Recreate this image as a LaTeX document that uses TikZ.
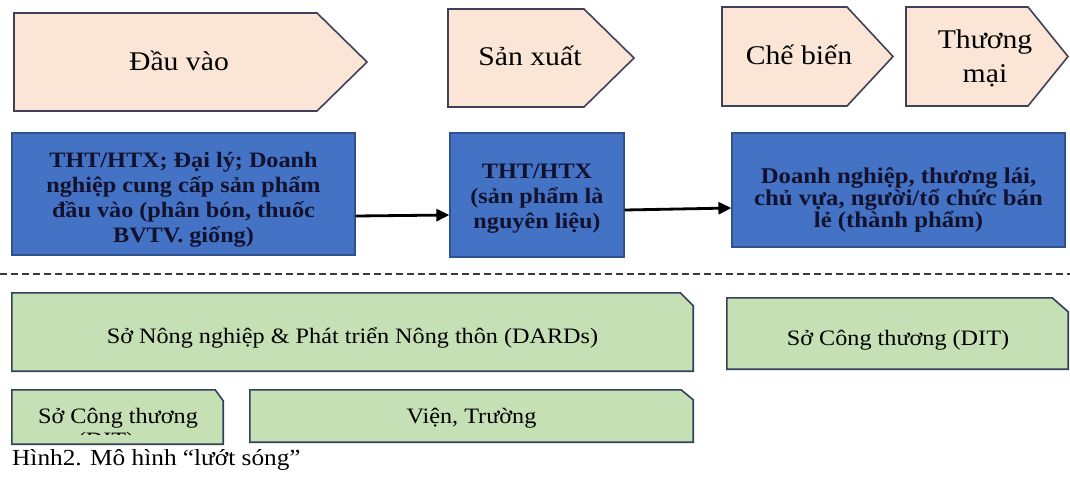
\documentclass[tikz,border=0pt]{standalone}
\usepackage{fontspec}
\setmainfont{Liberation Serif}[FakeStretch=1.1]
\usetikzlibrary{arrows.meta,calc}

\definecolor{peach}{HTML}{FBE5D6}
\definecolor{chevline}{HTML}{404058}
\definecolor{bluefill}{HTML}{4472C4}
\definecolor{blueline}{HTML}{2F528F}
\definecolor{bluetext}{HTML}{12122E}
\definecolor{greenfill}{HTML}{C5E0B4}
\definecolor{greenline}{HTML}{34405A}
\definecolor{dashgray}{HTML}{3A3A3A}

\begin{document}
\begin{tikzpicture}[x=1pt,y=-1pt,
  chev/.style={fill=peach,draw=chevline,line width=1.6pt,line join=miter},
  chevtext/.style={font=\fontsize{27}{34}\selectfont,align=center,inner sep=0pt,anchor=base},
  actor/.style={fill=bluefill,draw=blueline,line width=1.2pt,inner sep=0pt},
  actortext/.style={font=\bfseries\fontsize{22}{25}\selectfont,text=bluetext,align=center,inner sep=0pt,anchor=base},
  flow/.style={line width=2.8pt,-{Triangle[length=13pt,width=12pt]}},
  slot/.style={inner sep=0pt,draw=none},
  agency/.style={fill=greenfill,draw=greenline,line width=1.6pt,line join=miter},
  agencytext/.style={font=\fontsize{22}{25}\selectfont,inner sep=0pt,anchor=base,align=center},
  divider/.style={draw=dashgray,line width=2.4pt,dash pattern=on 7pt off 4pt},
]
\useasboundingbox (0,0) rectangle (1070,479);
\fill[white] (0,0) rectangle (1070,479);

% ---- stages (chevrons) ----
\draw[chev] (14,13) -- (317,13) -- (367,62) -- (317,111) -- (14,111) -- cycle;
\node[chevtext] (s1) at (179,70.5) {Đầu vào};
\draw[chev] (448,9) -- (584,9) -- (634,58) -- (584,107) -- (448,107) -- cycle;
\node[chevtext] (s2) at (530,65) {Sản xuất};
\draw[chev] (722,7) -- (847,7) -- (893,56.5) -- (847,106) -- (722,106) -- cycle;
\node[chevtext] (s3) at (799,64) {Chế biến};
\draw[chev] (906,7) -- (1028,7) -- (1068,56.5) -- (1028,106) -- (906,106) -- cycle;
% multi-line nodes sit on the baseline of their last line
\node[chevtext] (s4) at (985,82.5) {Thương\\mại};

% ---- actors ----
\node[actor,minimum width=343pt,minimum height=122pt] (b1) at (183.5,194) {};
\node[actor,minimum width=174pt,minimum height=124pt] (b2) at (537,195) {};
\node[actor,minimum width=333pt,minimum height=114pt] (b3) at (898.5,190) {};

\begin{scope}
  \clip (b1.north west) rectangle (355,246);
  \node[actortext] (t1) at (183.5,242) {THT/HTX; Đại lý; Doanh\\nghiệp cung cấp sản phẩm\\đầu vào (phân bón, thuốc\\BVTV. giống)};
\end{scope}
\node[actortext] (t2) at (537,228) {THT/HTX\\(sản phẩm là\\nguyên liệu)};
\node[actortext,font=\bfseries\fontsize{22.5}{22}\selectfont] (t3) at (898.5,227) {Doanh nghiệp, thương lái,\\chủ vựa, người/tổ chức bán\\lẻ (thành phẩm)};

\draw[flow] ($(b1.east)+(0,22)$) -- ($(b2.west)+(0,20)$);
\draw[flow] ($(b2.east)+(0,15)$) -- ($(b3.west)+(0,18)$);

% ---- divider ----
\coordinate (dl) at (0,274);
\coordinate (dr) at (1070,274);
\draw[divider] (dl) -- (dr);

% ---- supporting agencies (one snipped corner) ----
\node[slot,minimum width=681pt,minimum height=78pt] (dards) at (352.5,332) {};
\draw[agency] (dards.south west) -- (dards.north west) -- ([xshift=-13pt]dards.north east)
  -- ([yshift=-13pt]dards.north east) -- (dards.south east) -- cycle;
\node[agencytext] (dardst) at (352.5,343) {Sở Nông nghiệp \& Phát triển Nông thôn (DARDs)};

\node[slot,minimum width=341pt,minimum height=71pt] (dit) at (897.5,333.5) {};
\draw[agency] (dit.south west) -- (dit.north west) -- ([xshift=-16pt]dit.north east)
  -- ([yshift=-14pt]dit.north east) -- (dit.south east) -- cycle;
\node[agencytext] (ditt) at (898,345) {Sở Công thương (DIT)};

\node[slot,minimum width=211pt,minimum height=54pt] (sct) at (117.5,417) {};
\draw[agency] (sct.south west) -- (sct.north west) -- ([xshift=-8pt]sct.north east)
  -- ([yshift=-11pt]sct.north east) -- (sct.south east) -- cycle;
\node[agencytext] (sctt) at (118,423) {Sở Công thương};
% second line of the label, hidden by the box except for its top edge
\begin{scope}
  \clip (14,392) rectangle (221,434);
  \node[agencytext,text depth=0pt] (sctt2) at (106,447) {(DIT)};
\end{scope}

\node[slot,minimum width=443pt,minimum height=52pt] (vien) at (471.5,416) {};
\draw[agency] (vien.south west) -- (vien.north west) -- ([xshift=-12pt]vien.north east)
  -- ([yshift=-10pt]vien.north east) -- (vien.south east) -- cycle;
\node[agencytext] (vient) at (471.5,423) {Viện, Trường};

% ---- caption ----
\node[inner sep=0pt,anchor=base west,font=\fontsize{23}{26}\selectfont] (cap) at (12,465) {Hình2. Mô hình “lướt sóng”};
\end{tikzpicture}
\end{document}
